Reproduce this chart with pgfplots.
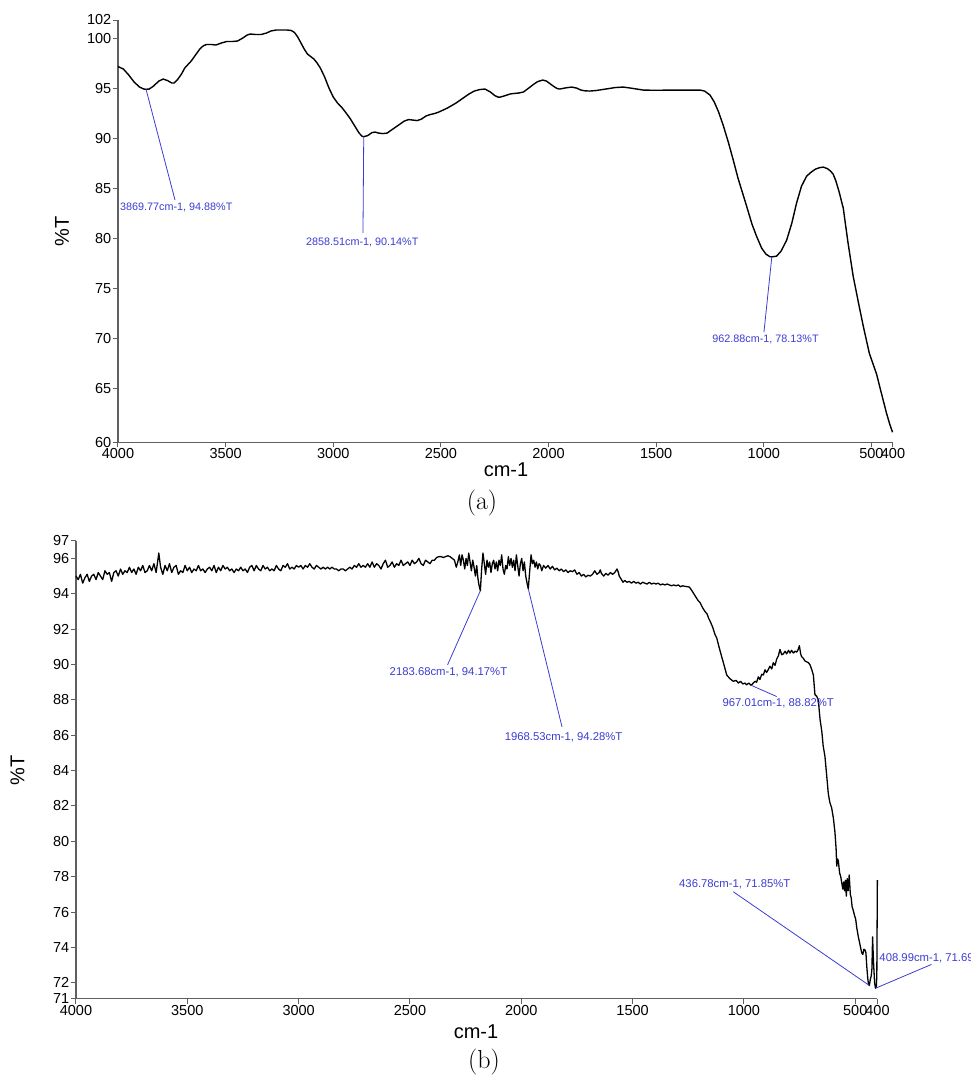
\documentclass[border=0pt]{standalone}
\usepackage{pgfplots}
\pgfplotsset{compat=1.18}
\usepackage{fontspec}
\newfontfamily\arial{Liberation Sans}
\definecolor{annot}{RGB}{60,60,210}
\definecolor{axgray}{RGB}{95,95,95}
\pgfplotsset{
  irstyle/.style={
    scale only axis, clip=false,
    x dir=reverse, xmin=400, xmax=4000,
    axis x line*=bottom, axis y line*=left,
    tick align=outside, major tick length=5pt,
    axis line style={axgray, line width=1.1pt},
    tick style={axgray, line width=1pt},
    xtick={4000,3500,3000,2500,2000,1500,1000,500,400},
    xticklabels={4000,3500,3000,2500,2000,1500,1000,500,400},
    tick label style={font=\arial\fontsize{14.5}{16}\selectfont, text=black},
    xticklabel style={inner sep=1pt},
    yticklabel style={inner sep=1.5pt},
  }
}
\begin{document}
\begin{tikzpicture}
\useasboundingbox (0pt,0pt) rectangle (971pt,-1079pt);
% ---------------- panel (a)
\begin{axis}[irstyle,
  at={(118pt,-442.3pt)}, anchor=south west,
  width=775pt, height=422.3pt,
  ymin=59.6, ymax=101.8,
  ytick={59.6,65,70,75,80,85,90,95,100,101.8},
  yticklabels={60,65,70,75,80,85,90,95,100,102},
]
\addplot[black, line width=1.4pt, line join=round] table {
4000 97.15
3975 96.9
3950 96.3
3925 95.6
3900 95.1
3880 94.9
3869.77 94.88
3855 94.9
3835 95.2
3810 95.7
3790 95.9
3770 95.75
3750 95.5
3740 95.5
3725 95.8
3705 96.4
3690 97.0
3660 97.7
3640 98.3
3620 98.9
3605 99.2
3590 99.35
3565 99.35
3545 99.3
3520 99.5
3495 99.65
3470 99.65
3445 99.7
3420 100.0
3400 100.3
3385 100.4
3360 100.35
3335 100.35
3310 100.5
3290 100.7
3265 100.8
3240 100.8
3215 100.8
3195 100.75
3180 100.55
3165 100.1
3150 99.5
3135 98.9
3120 98.4
3105 98.15
3090 97.9
3075 97.5
3060 97.0
3040 96.1
3020 95.0
3000 94.1
2980 93.5
2960 93.05
2940 92.5
2920 91.9
2900 91.2
2880 90.5
2865 90.17
2858.51 90.14
2840 90.25
2820 90.55
2805 90.6
2790 90.5
2770 90.45
2750 90.5
2730 90.8
2710 91.1
2690 91.4
2670 91.7
2650 91.85
2630 91.8
2610 91.75
2590 91.9
2570 92.2
2550 92.35
2530 92.45
2510 92.6
2490 92.8
2470 93.0
2450 93.25
2430 93.5
2410 93.8
2390 94.1
2370 94.4
2345 94.7
2320 94.85
2295 94.9
2270 94.6
2250 94.25
2235 94.1
2224 94.1
2200 94.25
2180 94.4
2164 94.45
2140 94.5
2117 94.6
2095 94.95
2071 95.35
2050 95.65
2027 95.8
2010 95.7
1994 95.45
1975 95.15
1960 94.95
1947 94.9
1925 95.0
1893 95.1
1870 95.0
1850 94.8
1830 94.72
1808 94.7
1780 94.75
1750 94.85
1720 94.95
1690 95.05
1653 95.1
1620 95.0
1590 94.9
1560 94.8
1520 94.78
1480 94.78
1440 94.8
1400 94.8
1360 94.8
1320 94.8
1297 94.8
1275 94.7
1250 94.3
1230 93.6
1210 92.6
1189 91.3
1165 89.6
1142 87.8
1120 86.0
1100 84.6
1080 83.2
1055 81.4
1034 80.2
1010 79.0
990 78.4
972 78.15
962.88 78.13
941 78.2
920 78.7
894 79.8
870 81.5
848 83.5
825 85.2
801 86.2
780 86.6
760 86.9
740 87.05
724 87.1
705 86.95
690 86.7
678 86.4
665 85.7
650 84.6
631 83.0
610 79.7
585 76.2
560 73.5
538 71.2
510 68.5
476 66.4
455 64.6
430 62.5
415 61.4
402 60.6
};
\draw[annot, line width=0.8pt] (axis cs:3869.77,94.88) -- (axis cs:3735,83.8);
\node[annot, font=\arial\fontsize{10.8}{12}\selectfont, anchor=west, inner sep=0pt] at (axis cs:3991,83.1) {3869.77cm-1, 94.88\%T};
\draw[annot, line width=0.8pt] (axis cs:2858.51,90.14) -- (axis cs:2862,80.5);
\node[annot, font=\arial\fontsize{10.8}{12}\selectfont, inner sep=0pt] at (axis cs:2865,79.6) {2858.51cm-1, 90.14\%T};
\draw[annot, line width=0.8pt] (axis cs:962.88,78.13) -- (axis cs:999.5,70.6);
\node[annot, font=\arial\fontsize{10.8}{12}\selectfont, inner sep=0pt] at (axis cs:992,69.9) {962.88cm-1, 78.13\%T};
\end{axis}
\node[font=\arial\fontsize{20}{22}\selectfont] at (506pt,-470pt) {cm-1};
\node[font=\arial\fontsize{20}{22}\selectfont, rotate=90] at (62pt,-231pt) {\%T};
\node[font=\fontsize{26}{30}\selectfont] at (482pt,-503pt) {(a)};
% ---------------- panel (b)
\begin{axis}[irstyle,
  at={(76pt,-998.7pt)}, anchor=south west,
  width=801.5pt, height=458pt,
  ymin=71.1, ymax=97,
  ytick={71.1,72,74,76,78,80,82,84,86,88,90,92,94,96,97},
  yticklabels={71,72,74,76,78,80,82,84,86,88,90,92,94,96,97},
]
\addplot[black, line width=1.3pt, line join=round] table {
4000 95.0
3990 94.8
3980 95.1
3970 94.6
3960 94.9
3950 95.1
3940 94.7
3930 95.0
3920 95.1
3910 94.8
3900 95.2
3890 95.0
3880 94.8
3870 95.3
3860 95.1
3850 95.2
3840 94.7
3830 95.2
3820 95.3
3810 95.0
3800 95.4
3790 95.1
3780 95.3
3770 95.2
3760 95.5
3750 95.2
3740 95.4
3730 95.1
3720 95.5
3710 95.3
3700 95.6
3690 95.2
3680 95.3
3670 95.6
3660 95.3
3650 95.7
3640 95.2
3628 96.3
3620 95.5
3610 95.1
3600 95.6
3590 95.3
3580 95.7
3570 95.2
3560 95.5
3550 95.6
3540 95.1
3530 95.3
3520 95.2
3510 95.6
3500 95.3
3490 95.5
3480 95.2
3470 95.4
3460 95.3
3450 95.6
3440 95.3
3430 95.4
3420 95.2
3410 95.4
3400 95.5
3390 95.3
3380 95.6
3370 95.2
3360 95.5
3350 95.3
3340 95.6
3330 95.4
3320 95.5
3310 95.3
3300 95.4
3290 95.2
3280 95.4
3270 95.3
3260 95.5
3250 95.3
3240 95.4
3230 95.2
3220 95.5
3210 95.6
3200 95.3
3190 95.6
3180 95.4
3170 95.3
3160 95.6
3150 95.4
3140 95.5
3130 95.3
3120 95.4
3110 95.3
3100 95.6
3090 95.4
3080 95.3
3070 95.6
3060 95.5
3050 95.7
3040 95.4
3030 95.5
3020 95.4
3010 95.6
3000 95.5
2990 95.6
2980 95.4
2970 95.6
2960 95.5
2950 95.7
2940 95.5
2930 95.4
2920 95.6
2910 95.5
2900 95.4
2890 95.5
2880 95.4
2870 95.5
2860 95.4
2850 95.5
2840 95.4
2830 95.4
2820 95.3
2810 95.4
2800 95.4
2790 95.3
2780 95.4
2770 95.5
2760 95.4
2750 95.6
2740 95.5
2730 95.7
2720 95.5
2710 95.6
2700 95.5
2690 95.7
2680 95.5
2670 95.8
2660 95.5
2650 95.7
2640 95.6
2630 95.4
2620 95.7
2610 95.9
2600 95.5
2590 95.6
2580 95.8
2570 95.5
2560 95.7
2550 95.6
2540 95.9
2530 95.6
2520 95.7
2510 95.8
2500 95.6
2490 95.9
2480 95.7
2470 95.8
2460 96.0
2450 95.7
2440 95.6
2430 95.9
2420 95.8
2410 95.7
2400 95.9
2390 95.9
2380 96.05
2370 96.1
2360 96.1
2350 96.05
2340 96.1
2330 96.15
2320 96.1
2310 96.0
2300 95.9
2292 95.5
2285 95.8
2278 96.2
2272 95.6
2266 96.2
2260 95.9
2254 95.4
2248 96.0
2242 95.6
2236 96.3
2230 95.8
2224 95.3
2218 95.9
2212 95.5
2206 95.0
2200 95.6
2195 94.9
2190 94.5
2183.68 94.17
2178 95.4
2172 96.3
2166 95.7
2160 95.1
2154 95.9
2148 95.5
2142 95.8
2136 95.2
2130 95.7
2124 95.9
2118 95.4
2112 95.8
2106 95.3
2100 95.9
2094 95.6
2088 96.2
2082 95.4
2076 95.1
2070 95.6
2064 95.4
2058 96.1
2052 95.6
2046 96.0
2040 95.5
2034 95.9
2028 95.3
2022 96.2
2016 95.6
2010 95.0
2004 95.7
1998 96.0
1992 95.3
1986 95.8
1980 95.0
1974 94.6
1968.53 94.28
1962 95.3
1956 96.2
1950 95.7
1944 95.9
1938 95.5
1932 95.8
1926 95.4
1920 95.7
1914 95.6
1908 95.3
1900 95.6
1890 95.45
1880 95.6
1870 95.4
1860 95.55
1850 95.35
1840 95.45
1830 95.3
1820 95.4
1810 95.25
1800 95.35
1790 95.2
1780 95.3
1770 95.25
1760 95.35
1750 95.1
1740 95.2
1730 95.0
1720 95.1
1710 94.95
1700 95.05
1690 95.0
1680 95.1
1670 95.3
1660 95.1
1650 95.2
1645 95.35
1640 95.15
1630 95.0
1620 95.15
1610 95.05
1600 95.2
1590 95.1
1580 95.2
1570 95.4
1565 95.25
1560 95.0
1550 94.8
1543 94.65
1535 94.75
1525 94.65
1515 94.7
1505 94.6
1495 94.7
1485 94.6
1475 94.65
1465 94.55
1455 94.65
1445 94.6
1435 94.55
1425 94.65
1415 94.55
1405 94.6
1395 94.55
1385 94.6
1375 94.5
1365 94.55
1355 94.5
1345 94.55
1335 94.5
1325 94.45
1315 94.5
1305 94.45
1295 94.5
1285 94.4
1275 94.45
1265 94.42
1255 94.4
1245 94.38
1235 94.2
1225 94.0
1215 93.8
1205 93.6
1197 93.5
1185 93.2
1175 93.0
1165 92.85
1158 92.6
1150 92.4
1140 92.1
1130 91.7
1122 91.5
1112 91.0
1100 90.45
1090 90.0
1077 89.4
1063 89.2
1048 89.05
1035 89.1
1025 88.95
1015 89.05
1005 88.9
995 88.95
988 88.85
978 88.95
967.01 88.82
958 88.95
950 89.05
943 89.0
935 89.3
928 89.15
920 89.45
913 89.4
905 89.7
898 89.55
891 89.7
883 89.9
875 89.75
868 90.1
860 89.95
853 90.3
845 90.5
838 90.85
830 90.55
823 90.6
815 90.75
808 90.6
800 90.8
793 90.65
786 90.8
778 90.65
770 90.75
763 90.7
756 90.85
751 91.06
745 90.6
741 90.45
733 90.35
726 90.2
718 90.15
710 90.1
703 89.98
695 89.7
688 89.4
681 88.3
673 88.2
666 88.0
658 86.9
650 86.2
644 85.4
636 84.8
628 83.7
621 82.7
614 82.2
606 81.9
598 81.3
591 80.5
586 79.6
583 78.6
579 79.0
576 78.9
570 78.2
565 78.0
560 77.6
556 77.3
552 77.7
548 77.2
544 77.8
540 76.9
536 77.9
532 77.2
527 78.1
522 77.0
518 76.8
514 76.3
509 76.1
503 75.8
498 75.6
493 75.1
486 74.6
481 74.3
476 74.0
471 73.7
466 73.6
461 73.9
456 73.85
452 73.7
448 72.9
444 72.3
441 71.95
436.78 71.85
432 72.2
428 72.4
425 72.8
422 74.6
418 73.2
413 72.0
408.99 71.69
405 71.8
403 72.5
400.5 77.8
};
\draw[annot, line width=0.8pt] (axis cs:2183.68,94.17) -- (axis cs:2331,89.98);
\node[annot, font=\arial\fontsize{11.3}{13}\selectfont, inner sep=0pt] at (axis cs:2327,89.57) {2183.68cm-1, 94.17\%T};
\draw[annot, line width=0.8pt] (axis cs:1968.53,94.28) -- (axis cs:1817,86.47);
\node[annot, font=\arial\fontsize{11.3}{13}\selectfont, inner sep=0pt] at (axis cs:1810,85.89) {1968.53cm-1, 94.28\%T};
\draw[annot, line width=0.8pt] (axis cs:967.01,88.82) -- (axis cs:853,88.19);
\node[annot, font=\arial\fontsize{11.3}{13}\selectfont, inner sep=0pt] at (axis cs:846,87.81) {967.01cm-1, 88.82\%T};
\draw[annot, line width=0.8pt] (axis cs:436.78,71.85) -- (axis cs:1048,77.15);
\node[annot, font=\arial\fontsize{11.3}{13}\selectfont, inner sep=0pt] at (axis cs:1041,77.57) {436.78cm-1, 71.85\%T};
\draw[annot, line width=0.8pt] (axis cs:408.99,71.69) -- (axis cs:157.5,73.04);
\node[annot, font=\arial\fontsize{11.3}{13}\selectfont, inner sep=0pt, anchor=west] at (axis cs:392,73.38) {408.99cm-1, 71.69\%T};
\end{axis}
\node[font=\arial\fontsize{20}{22}\selectfont] at (476pt,-1031.7pt) {cm-1};
\node[font=\arial\fontsize{20}{22}\selectfont, rotate=90] at (17.5pt,-770pt) {\%T};
\node[font=\fontsize{26}{30}\selectfont] at (484pt,-1062pt) {(b)};
\end{tikzpicture}
\end{document}
